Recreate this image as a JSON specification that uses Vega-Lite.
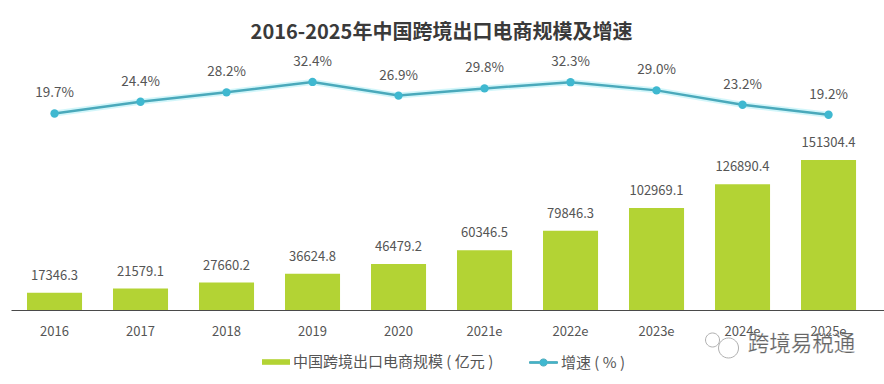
{
"$schema":"https://vega.github.io/schema/vega-lite/v6.json",
"width":873,"height":270,
"autosize":{"type":"none"},
"padding":{"left":11,"top":40,"right":0,"bottom":74},
"background":"#ffffff",
"title":{"text":"2016-2025年中国跨境出口电商规模及增速","font":"Noto Sans CJK SC","fontSize":20,"fontWeight":"bold","color":"#3a3a3a","anchor":"middle","offset":-3,"dx":-6},
"config":{"view":{"stroke":null},"font":"Noto Sans CJK SC"},
"data":{"values":[
{"year":"2016","scale":17346.3,"growth":19.7,"scaleLabel":"17346.3","growthLabel":"19.7%"},
{"year":"2017","scale":21579.1,"growth":24.4,"scaleLabel":"21579.1","growthLabel":"24.4%"},
{"year":"2018","scale":27660.2,"growth":28.2,"scaleLabel":"27660.2","growthLabel":"28.2%"},
{"year":"2019","scale":36624.8,"growth":32.4,"scaleLabel":"36624.8","growthLabel":"32.4%"},
{"year":"2020","scale":46479.2,"growth":26.9,"scaleLabel":"46479.2","growthLabel":"26.9%"},
{"year":"2021e","scale":60346.5,"growth":29.8,"scaleLabel":"60346.5","growthLabel":"29.8%"},
{"year":"2022e","scale":79846.3,"growth":32.3,"scaleLabel":"79846.3","growthLabel":"32.3%"},
{"year":"2023e","scale":102969.1,"growth":29.0,"scaleLabel":"102969.1","growthLabel":"29.0%"},
{"year":"2024e","scale":126890.4,"growth":23.2,"scaleLabel":"126890.4","growthLabel":"23.2%"},
{"year":"2025e","scale":151304.4,"growth":19.2,"scaleLabel":"151304.4","growthLabel":"19.2%"}
]},
"encoding":{"x":{"field":"year","type":"nominal","sort":null,
"scale":{"paddingInner":0.36,"paddingOuter":0.2555,"align":0.364},
"axis":{"title":null,"labelAngle":0,"ticks":false,"domainColor":"#4a4a4a","domainWidth":1.2,"labelColor":"#555555","labelFontSize":13,"labelPadding":15,"grid":false}}},
"layer":[
{"layer":[
{"transform":[{"calculate":"'中国跨境出口电商规模 ( 亿元 )'","as":"s1"}],
"mark":{"type":"bar"},
"encoding":{"y":{"field":"scale","type":"quantitative","scale":{"domain":[0,272348]},"axis":null},
"fill":{"field":"s1","type":"nominal","scale":{"range":["#b3d334"]},
"legend":{"orient":"none","legendX":251,"legendY":308,"title":null,"direction":"horizontal","symbolType":"M-1,-0.2H1V0.2H-1Z","symbolSize":784,"labelColor":"#555555","labelFontSize":15,"labelLimit":400,"labelOffset":3,"symbolStrokeWidth":0}}}},
{"mark":{"type":"text","baseline":"bottom","dy":-10,"fontSize":13,"color":"#555555"},
"encoding":{"y":{"field":"scale","type":"quantitative","scale":{"domain":[0,272348]},"axis":null},"text":{"field":"scaleLabel"}}},
{"data":{"values":[{"year":"2024e","pos":-34295,"icon":"weixin"}]},
"mark":{"type":"point","shape":"M-1.5,-0.4a0.7,0.7 0 1 1 1.4,0a0.7,0.7 0 1 1 -1.4,0ZM-0.2,0.4a1,1 0 1 0 2,0a1,1 0 1 0 -2,0Z","size":400,"filled":false,"stroke":"#9a9a9a","strokeWidth":0.8,"opacity":1,"xOffset":-22},
"encoding":{"y":{"field":"pos","type":"quantitative","scale":{"domain":[0,272348]},"axis":null}}},
{"data":{"values":[{"year":"2025e","pos":-35304,"mark":"跨境易税通"}]},
"mark":{"type":"text","fontSize":21.5,"color":"#666666","stroke":"#ffffff","strokeWidth":0.2,"dx":-27,"baseline":"middle"},
"encoding":{"y":{"field":"pos","type":"quantitative","scale":{"domain":[0,272348]},"axis":null},"text":{"field":"mark"}}}
]},
{"layer":[
{"mark":{"type":"line","stroke":"#7fe6f2","strokeWidth":6,"opacity":0.35},
"encoding":{"y":{"field":"growth","type":"quantitative","scale":{"domain":[-59.5,49.3]},"axis":null}}},
{"transform":[{"calculate":"'增速 ( % )'","as":"s2"}],
"mark":{"type":"line","strokeWidth":2.5},
"encoding":{"y":{"field":"growth","type":"quantitative","scale":{"domain":[-59.5,49.3]},"axis":null},
"stroke":{"field":"s2","type":"nominal","scale":{"range":["#4aa9bb"]},
"legend":{"orient":"none","legendX":518,"legendY":308,"title":null,"direction":"horizontal","symbolType":"M-1,-0.06H-0.28A0.3,0.3 0 0 1 0.28,-0.06H1V0.06H0.28A0.3,0.3 0 0 1 -0.28,0.06H-1Z","symbolSize":784,"symbolStrokeWidth":1,"symbolFillColor":"#3fb8d0","labelColor":"#555555","labelFontSize":15,"labelOffset":3}}}},
{"mark":{"type":"point","filled":true,"size":70,"color":"#3fb8d0","opacity":1},
"encoding":{"y":{"field":"growth","type":"quantitative","scale":{"domain":[-59.5,49.3]},"axis":null}}},
{"mark":{"type":"text","baseline":"bottom","dy":-13,"fontSize":13.5,"color":"#555555"},
"encoding":{"y":{"field":"growth","type":"quantitative","scale":{"domain":[-59.5,49.3]},"axis":null},"text":{"field":"growthLabel"}}}
]}
],
"resolve":{"scale":{"y":"independent","fill":"independent","stroke":"independent"}}
}
